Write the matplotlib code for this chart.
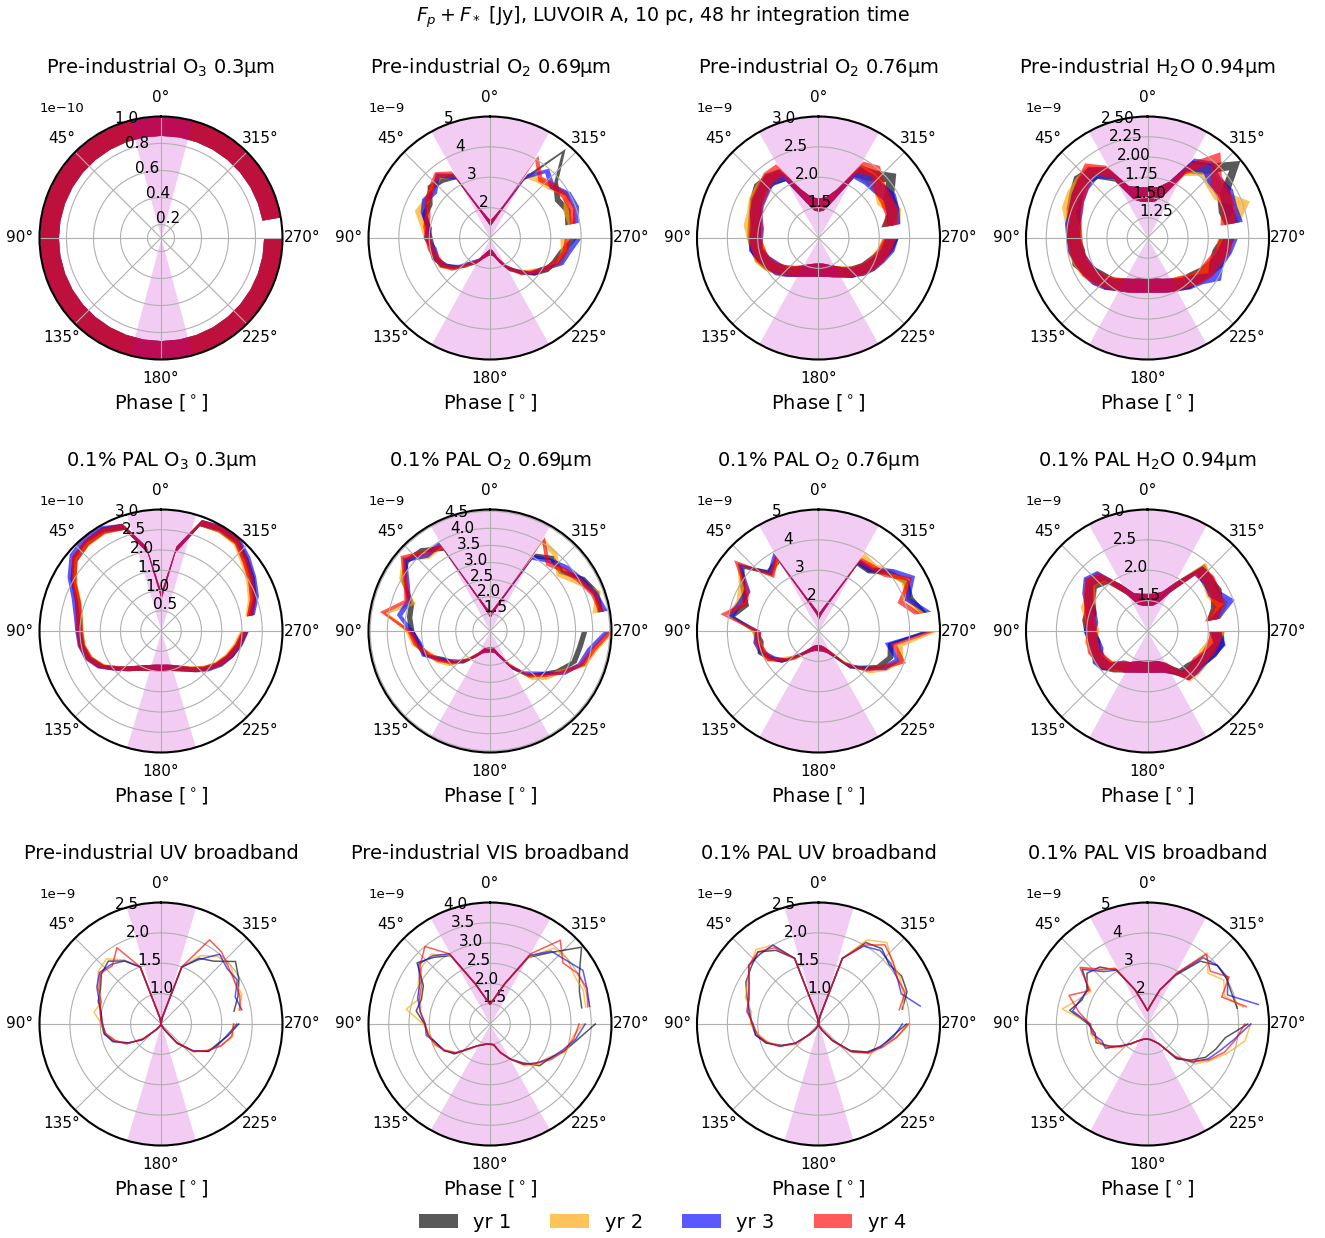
import numpy as np
import matplotlib
matplotlib.use('Agg')
import matplotlib.pyplot as plt
from matplotlib.patches import Patch

# Phase grid (deg) shared by every series, 10 deg sampling
phase = np.arange(0, 360, 10)

years = ['yr 1', 'yr 2', 'yr 3', 'yr 4']
year_colors = ['k', 'orange', 'b', 'r']

# ------------------------------------------------------------------------
# F_p + F_* per year, in units of the panel scale (1e-10 or 1e-9 Jy)
# each panel: [yr1, yr2, yr3, yr4], values at phase 0, 10, ..., 350 deg
pre_o3_030 = [
    [0.93] * 36,
    [0.93] * 36,
    [0.93] * 36,
    [0.93] * 36,
]
pre_o2_069 = [
    [1.5, 1.65, 2.0, 3.35, 3.5, 3.6, 3.3, 3.3, 3.1, 3.0, 2.95, 2.95, 2.75, 2.5, 2.15, 1.87, 1.62, 1.5,
     1.45, 1.5, 1.75, 2.15, 2.4, 2.8, 3.1, 3.25, 3.4, 3.75, 3.6, 3.7, 3.55, 3.8, 4.75, 3.3, 2.0, 1.65],
    [1.5, 1.65, 2.0, 3.4, 3.65, 3.5, 3.45, 3.55, 3.25, 3.1, 2.95, 2.85, 2.85, 2.5, 2.1, 1.87, 1.62, 1.5,
     1.45, 1.5, 1.75, 2.1, 2.5, 2.7, 3.0, 3.4, 3.45, 3.4, 3.7, 3.65, 3.9, 3.6, 3.5, 3.4, 2.0, 1.65],
    [1.5, 1.65, 2.0, 3.35, 3.7, 3.4, 3.5, 3.35, 3.05, 3.1, 2.9, 2.9, 2.8, 2.45, 2.05, 1.87, 1.62, 1.5,
     1.45, 1.5, 1.75, 2.1, 2.45, 2.8, 3.0, 3.45, 3.6, 3.9, 3.85, 4.0, 3.95, 3.65, 3.9, 3.35, 2.0, 1.65],
    [1.5, 1.65, 2.0, 3.45, 3.75, 3.55, 3.4, 3.2, 3.15, 3.05, 3.0, 2.9, 2.8, 2.55, 2.1, 1.87, 1.62, 1.5,
     1.45, 1.5, 1.75, 2.1, 2.45, 2.75, 3.05, 3.3, 3.5, 3.55, 3.75, 3.85, 3.8, 3.7, 3.55, 4.05, 2.0, 1.65],
]
pre_o2_076 = [
    [1.55, 1.58, 1.75, 2.2, 2.25, 2.28, 2.2, 2.12, 2.08, 2.07, 2.04, 2.0, 1.92, 1.8, 1.7, 1.62, 1.56, 1.53,
     1.52, 1.53, 1.57, 1.63, 1.74, 1.82, 1.92, 2.0, 2.12, 2.2, 2.15, 2.3, 2.32, 2.55, 2.35, 2.28, 1.75, 1.58],
    [1.55, 1.58, 1.75, 2.22, 2.28, 2.25, 2.22, 2.15, 2.15, 2.08, 2.0, 2.02, 1.93, 1.82, 1.7, 1.62, 1.56, 1.53,
     1.52, 1.53, 1.57, 1.63, 1.7, 1.84, 1.95, 2.02, 2.08, 2.15, 2.25, 2.33, 2.22, 2.3, 2.3, 2.3, 1.75, 1.58],
    [1.55, 1.58, 1.75, 2.2, 2.27, 2.2, 2.16, 2.1, 2.03, 2.03, 2.06, 1.97, 1.88, 1.83, 1.72, 1.62, 1.56, 1.53,
     1.52, 1.53, 1.57, 1.63, 1.73, 1.85, 1.95, 2.04, 2.15, 2.2, 2.25, 2.3, 2.35, 2.28, 2.27, 2.25, 1.75, 1.58],
    [1.55, 1.58, 1.75, 2.3, 2.3, 2.22, 2.18, 2.1, 2.05, 2.05, 2.02, 1.98, 1.9, 1.8, 1.7, 1.62, 1.56, 1.53,
     1.52, 1.53, 1.57, 1.63, 1.72, 1.83, 1.93, 2.02, 2.1, 2.17, 2.2, 2.27, 2.28, 2.3, 2.45, 2.35, 1.75, 1.58],
]
pre_h2o_094 = [
    [1.54, 1.55, 1.6, 1.9, 2.05, 2.1, 2.03, 1.98, 1.93, 1.92, 1.88, 1.9, 1.82, 1.76, 1.73, 1.66, 1.62, 1.59,
     1.58, 1.59, 1.62, 1.66, 1.72, 1.75, 1.82, 1.9, 1.9, 1.98, 2.05, 2.02, 2.08, 2.4, 2.12, 2.02, 1.65, 1.55],
    [1.54, 1.55, 1.6, 1.92, 2.08, 2.07, 2.06, 2.04, 1.95, 1.9, 1.92, 1.88, 1.85, 1.8, 1.71, 1.66, 1.62, 1.59,
     1.58, 1.59, 1.62, 1.66, 1.69, 1.78, 1.84, 1.88, 1.95, 1.95, 2.06, 2.25, 2.04, 2.05, 2.1, 1.98, 1.65, 1.55],
    [1.54, 1.55, 1.6, 1.93, 2.06, 2.04, 2.0, 1.95, 1.95, 1.92, 1.91, 1.86, 1.83, 1.8, 1.74, 1.66, 1.62, 1.59,
     1.58, 1.59, 1.62, 1.66, 1.73, 1.79, 1.95, 1.9, 1.96, 2.02, 2.1, 2.08, 2.12, 2.08, 2.15, 2.05, 1.65, 1.55],
    [1.54, 1.55, 1.6, 1.95, 2.12, 2.05, 2.0, 1.96, 1.92, 1.9, 1.9, 1.87, 1.84, 1.78, 1.72, 1.66, 1.62, 1.59,
     1.58, 1.59, 1.62, 1.66, 1.7, 1.77, 1.83, 1.86, 1.93, 1.97, 2.0, 2.05, 2.08, 2.1, 2.3, 2.0, 1.65, 1.55],
]
pal_o3_030 = [
    [0.88, 2.05, 2.75, 2.88, 2.86, 2.78, 2.52, 2.2, 2.06, 2.02, 2.0, 1.9, 1.72, 1.42, 1.2, 1.04, 0.96, 0.91,
     0.9, 0.91, 0.96, 1.06, 1.22, 1.42, 1.62, 1.8, 1.93, 2.06, 2.22, 2.42, 2.58, 2.72, 2.9, 2.9, 2.85, 2.05],
    [0.88, 2.05, 2.75, 2.85, 2.85, 2.8, 2.48, 2.18, 2.05, 2.0, 1.98, 1.9, 1.7, 1.42, 1.2, 1.04, 0.96, 0.91,
     0.9, 0.91, 0.96, 1.06, 1.2, 1.4, 1.6, 1.75, 1.88, 2.02, 2.18, 2.35, 2.5, 2.65, 2.86, 2.9, 2.85, 2.05],
    [0.88, 2.05, 2.75, 2.92, 2.95, 2.88, 2.6, 2.28, 2.12, 2.05, 2.02, 1.94, 1.74, 1.43, 1.2, 1.04, 0.96, 0.91,
     0.9, 0.91, 0.96, 1.06, 1.24, 1.45, 1.65, 1.8, 1.95, 2.08, 2.26, 2.48, 2.62, 2.78, 2.94, 2.95, 2.85, 2.05],
    [0.88, 2.05, 2.75, 2.87, 2.87, 2.8, 2.5, 2.2, 2.07, 2.02, 2.0, 1.92, 1.72, 1.42, 1.2, 1.04, 0.96, 0.91,
     0.9, 0.91, 0.96, 1.06, 1.22, 1.42, 1.62, 1.78, 1.92, 2.05, 2.22, 2.4, 2.55, 2.7, 2.9, 2.92, 2.85, 2.05],
]
pal_o2_069 = [
    [1.48, 1.65, 2.05, 3.8, 4.1, 4.2, 3.95, 3.45, 3.4, 3.3, 3.15, 3.0, 2.6, 2.45, 2.1, 1.8, 1.6, 1.55,
     1.53, 1.55, 1.75, 2.2, 2.7, 2.95, 3.3, 3.6, 3.65, 3.75, 4.25, 4.3, 4.1, 3.7, 3.8, 3.55, 2.05, 1.65],
    [1.48, 1.65, 2.05, 3.9, 3.85, 4.3, 4.0, 3.4, 4.1, 3.4, 3.25, 2.9, 2.75, 2.5, 2.05, 1.8, 1.6, 1.55,
     1.53, 1.55, 1.75, 2.1, 2.75, 3.1, 3.35, 3.9, 4.1, 4.55, 4.1, 4.35, 3.9, 3.6, 3.95, 4.05, 2.05, 1.65],
    [1.48, 1.65, 2.05, 3.95, 3.9, 4.25, 3.8, 3.55, 3.7, 3.3, 3.1, 3.05, 2.65, 2.35, 2.15, 1.8, 1.6, 1.55,
     1.53, 1.55, 1.75, 2.2, 2.6, 2.9, 3.45, 3.8, 3.95, 4.4, 4.4, 4.25, 4.05, 3.9, 3.7, 3.5, 2.05, 1.65],
    [1.48, 1.65, 2.05, 3.85, 4.0, 4.35, 3.85, 3.6, 4.2, 3.35, 3.2, 2.95, 2.7, 2.4, 2.1, 1.8, 1.6, 1.55,
     1.53, 1.55, 1.75, 2.15, 2.65, 3.0, 3.4, 3.85, 4.05, 4.5, 4.3, 4.2, 4.0, 3.8, 3.6, 4.1, 2.05, 1.65],
]
pal_o2_076 = [
    [1.5, 1.7, 2.1, 3.7, 3.55, 4.3, 3.9, 3.55, 3.9, 3.1, 2.95, 3.05, 2.8, 2.5, 2.1, 1.75, 1.6, 1.55,
     1.55, 1.57, 1.65, 1.9, 2.5, 2.85, 3.3, 3.5, 3.4, 4.5, 4.5, 4.2, 4.3, 4.0, 3.6, 3.6, 2.1, 1.7],
    [1.5, 1.7, 2.1, 3.75, 3.45, 4.4, 3.95, 3.8, 4.0, 3.1, 3.05, 2.95, 2.9, 2.35, 2.1, 1.75, 1.6, 1.55,
     1.55, 1.57, 1.65, 1.8, 2.35, 3.05, 3.5, 3.85, 3.7, 4.8, 4.4, 4.1, 4.25, 4.05, 3.8, 3.9, 2.1, 1.7],
    [1.5, 1.7, 2.1, 3.9, 3.5, 4.4, 3.7, 3.75, 3.95, 3.0, 3.1, 3.0, 2.75, 2.5, 2.0, 1.75, 1.6, 1.55,
     1.55, 1.57, 1.65, 1.85, 2.45, 2.9, 3.45, 3.75, 3.3, 4.6, 4.65, 4.1, 4.55, 4.1, 3.65, 3.65, 2.1, 1.7],
    [1.5, 1.7, 2.1, 3.8, 3.4, 4.55, 3.75, 3.6, 4.2, 3.0, 3.05, 2.95, 2.85, 2.45, 2.05, 1.75, 1.6, 1.55,
     1.55, 1.57, 1.65, 1.85, 2.4, 2.95, 3.35, 3.95, 3.5, 4.7, 4.3, 3.85, 4.45, 3.9, 3.75, 3.7, 2.1, 1.7],
]
pal_h2o_094 = [
    [1.52, 1.53, 1.57, 1.8, 2.12, 2.2, 2.1, 2.0, 2.0, 1.95, 1.9, 1.92, 1.92, 1.88, 1.78, 1.68, 1.62, 1.59,
     1.58, 1.59, 1.62, 1.72, 1.9, 1.92, 2.0, 2.1, 2.18, 2.15, 2.08, 2.2, 2.3, 2.28, 2.35, 1.85, 1.6, 1.53],
    [1.52, 1.53, 1.57, 1.8, 2.18, 2.25, 2.08, 2.08, 1.95, 1.9, 1.96, 1.9, 1.94, 1.85, 1.74, 1.68, 1.62, 1.59,
     1.58, 1.59, 1.62, 1.68, 1.98, 2.0, 2.02, 2.0, 2.08, 2.18, 2.12, 2.3, 2.22, 2.28, 2.38, 1.85, 1.6, 1.53],
    [1.52, 1.53, 1.57, 1.8, 2.2, 2.28, 2.15, 2.0, 1.93, 1.96, 1.9, 1.88, 1.95, 1.9, 1.72, 1.68, 1.62, 1.59,
     1.58, 1.59, 1.62, 1.7, 1.95, 1.98, 2.0, 2.08, 2.2, 2.1, 2.1, 2.42, 2.25, 2.3, 2.3, 1.85, 1.6, 1.53],
    [1.52, 1.53, 1.57, 1.8, 2.15, 2.25, 2.12, 2.02, 1.97, 1.93, 1.93, 1.95, 1.9, 1.87, 1.75, 1.68, 1.62, 1.59,
     1.58, 1.59, 1.62, 1.7, 1.95, 1.97, 1.96, 2.05, 2.1, 2.12, 2.05, 2.25, 2.27, 2.32, 2.3, 1.85, 1.6, 1.53],
]
pre_uv = [
    [0.5, 0.6, 1.5, 1.7, 1.85, 1.78, 1.65, 1.6, 1.5, 1.48, 1.45, 1.33, 1.12, 0.9, 0.62, 0.55, 0.52, 0.5,
     0.5, 0.5, 0.52, 0.6, 0.92, 1.2, 1.4, 1.48, 1.62, 1.78, 1.72, 1.85, 1.98, 2.1, 1.85, 1.75, 1.5, 0.6],
    [0.5, 0.6, 1.5, 1.72, 1.9, 1.85, 1.7, 1.55, 1.62, 1.48, 1.43, 1.3, 1.16, 0.86, 0.62, 0.55, 0.52, 0.5,
     0.5, 0.5, 0.52, 0.6, 0.88, 1.22, 1.36, 1.55, 1.7, 1.68, 1.8, 1.92, 1.9, 2.0, 1.95, 1.8, 1.5, 0.6],
    [0.5, 0.6, 1.5, 1.7, 1.78, 1.82, 1.72, 1.58, 1.5, 1.46, 1.44, 1.35, 1.13, 0.9, 0.62, 0.55, 0.52, 0.5,
     0.5, 0.5, 0.52, 0.6, 0.9, 1.18, 1.4, 1.5, 1.6, 1.75, 1.85, 1.8, 1.95, 1.92, 2.0, 1.72, 1.5, 0.6],
    [0.5, 0.6, 1.5, 1.95, 1.75, 1.8, 1.68, 1.55, 1.52, 1.47, 1.42, 1.3, 1.15, 0.88, 0.62, 0.55, 0.52, 0.5,
     0.5, 0.5, 0.52, 0.6, 0.9, 1.2, 1.38, 1.55, 1.68, 1.7, 1.82, 1.88, 1.9, 1.95, 2.05, 2.1, 1.5, 0.6],
]
pre_vis = [
    [1.49, 1.65, 2.05, 2.95, 3.15, 3.35, 2.9, 2.8, 2.85, 2.62, 2.55, 2.4, 2.3, 2.15, 1.8, 1.62, 1.55, 1.5,
     1.5, 1.52, 1.75, 2.0, 2.25, 2.6, 2.7, 2.95, 3.2, 3.6, 3.3, 3.35, 3.55, 3.95, 3.3, 2.9, 2.05, 1.65],
    [1.49, 1.65, 2.05, 2.95, 3.25, 3.2, 3.05, 2.85, 3.1, 2.65, 2.5, 2.5, 2.28, 2.1, 1.82, 1.62, 1.55, 1.5,
     1.5, 1.52, 1.75, 2.0, 2.35, 2.55, 2.65, 3.0, 3.05, 3.3, 3.4, 3.45, 3.4, 3.5, 3.45, 2.9, 2.05, 1.65],
    [1.49, 1.65, 2.05, 3.0, 3.2, 3.3, 3.0, 2.9, 2.75, 2.6, 2.6, 2.4, 2.32, 2.12, 1.78, 1.62, 1.55, 1.5,
     1.5, 1.52, 1.75, 2.0, 2.3, 2.5, 2.7, 2.9, 3.15, 3.35, 3.5, 3.55, 3.65, 3.45, 3.35, 2.95, 2.05, 1.65],
    [1.49, 1.65, 2.05, 3.0, 3.5, 3.25, 2.95, 2.85, 2.75, 2.6, 2.55, 2.45, 2.3, 2.1, 1.8, 1.62, 1.55, 1.5,
     1.5, 1.52, 1.75, 2.0, 2.3, 2.5, 2.75, 2.95, 3.1, 3.2, 3.45, 3.55, 3.5, 3.35, 3.7, 3.0, 2.05, 1.65],
]
pal_uv = [
    [0.5, 0.62, 1.65, 1.9, 2.05, 1.95, 1.88, 1.75, 1.65, 1.6, 1.55, 1.42, 1.2, 1.0, 0.72, 0.6, 0.54, 0.5,
     0.5, 0.5, 0.54, 0.62, 0.85, 1.18, 1.42, 1.6, 1.72, 1.95, 1.9, 2.05, 2.08, 2.02, 2.12, 2.05, 1.65, 0.62],
    [0.5, 0.62, 1.65, 2.0, 2.1, 1.98, 1.85, 1.78, 1.62, 1.62, 1.5, 1.38, 1.22, 1.02, 0.72, 0.6, 0.54, 0.5,
     0.5, 0.5, 0.54, 0.62, 0.88, 1.2, 1.48, 1.58, 1.8, 2.0, 1.92, 1.98, 2.05, 2.08, 2.25, 2.1, 1.65, 0.62],
    [0.5, 0.62, 1.65, 2.0, 2.0, 2.0, 1.82, 1.72, 1.68, 1.58, 1.55, 1.4, 1.24, 0.98, 0.72, 0.6, 0.54, 0.5,
     0.5, 0.5, 0.54, 0.62, 0.85, 1.2, 1.44, 1.58, 1.75, 1.88, 2.2, 1.95, 2.0, 2.05, 2.08, 1.98, 1.65, 0.62],
    [0.5, 0.62, 1.65, 1.95, 2.05, 2.0, 1.82, 1.72, 1.7, 1.58, 1.52, 1.4, 1.22, 1.0, 0.72, 0.6, 0.54, 0.5,
     0.5, 0.5, 0.54, 0.62, 0.85, 1.22, 1.45, 1.62, 1.8, 1.98, 1.85, 2.02, 2.0, 2.1, 2.2, 2.0, 1.65, 0.62],
]
pal_vis = [
    [1.44, 1.65, 2.2, 3.05, 3.45, 3.6, 3.3, 3.3, 3.6, 2.95, 2.75, 2.8, 2.45, 2.15, 1.85, 1.65, 1.55, 1.5,
     1.5, 1.52, 1.6, 1.75, 2.5, 2.85, 3.2, 3.4, 3.6, 4.3, 4.0, 3.95, 4.0, 4.0, 3.7, 2.85, 2.2, 1.65],
    [1.44, 1.65, 2.2, 3.15, 3.3, 3.85, 3.15, 3.4, 3.85, 2.85, 2.9, 2.75, 2.55, 2.2, 1.85, 1.65, 1.55, 1.5,
     1.5, 1.52, 1.6, 1.75, 2.35, 3.05, 3.4, 3.8, 4.25, 4.4, 4.2, 3.7, 3.9, 3.6, 4.05, 2.9, 2.2, 1.65],
    [1.44, 1.65, 2.2, 3.05, 3.25, 3.8, 3.25, 3.35, 3.5, 2.9, 2.85, 2.6, 2.6, 2.1, 1.85, 1.65, 1.55, 1.5,
     1.5, 1.52, 1.6, 1.75, 2.45, 2.95, 3.3, 3.55, 3.9, 4.4, 4.7, 3.8, 4.05, 4.0, 3.85, 2.9, 2.2, 1.65],
    [1.44, 1.65, 2.2, 3.1, 3.35, 3.9, 3.2, 3.75, 3.3, 2.9, 2.8, 2.7, 2.5, 2.15, 1.85, 1.65, 1.55, 1.5,
     1.5, 1.52, 1.6, 1.75, 2.4, 2.9, 3.35, 3.7, 3.95, 4.2, 4.3, 3.6, 4.1, 3.7, 4.0, 2.95, 2.2, 1.65],
]

# ------------------------------------------------------------------------
titles = ['Pre-industrial O$_3$ 0.3µm', 'Pre-industrial O$_2$ 0.69µm',
          'Pre-industrial O$_2$ 0.76µm', 'Pre-industrial H$_2$O 0.94µm',
          '0.1% PAL O$_3$ 0.3µm', '0.1% PAL O$_2$ 0.69µm',
          '0.1% PAL O$_2$ 0.76µm', '0.1% PAL H$_2$O 0.94µm',
          'Pre-industrial UV broadband', 'Pre-industrial VIS broadband',
          '0.1% PAL UV broadband', '0.1% PAL VIS broadband']
panels = [pre_o3_030, pre_o2_069, pre_o2_076, pre_h2o_094,
          pal_o3_030, pal_o2_069, pal_o2_076, pal_h2o_094,
          pre_uv, pre_vis, pal_uv, pal_vis]
scales = [1e-10, 1e-9, 1e-9, 1e-9, 1e-10, 1e-9, 1e-9, 1e-9, 1e-9, 1e-9, 1e-9, 1e-9]
r_limits = [(0.1, 1.0), (1.0, 5.0), (1.0, 3.0), (1.0, 2.5),
            (0.0, 3.0), (1.0, 4.55), (1.0, 5.0), (1.0, 3.0),
            (0.5, 2.5), (1.0, 4.0), (0.5, 2.5), (1.0, 5.0)]
r_ticks = [[0.2, 0.4, 0.6, 0.8, 1.0], [2, 3, 4, 5], [1.5, 2.0, 2.5, 3.0],
           [1.25, 1.5, 1.75, 2.0, 2.25, 2.5],
           [0.5, 1.0, 1.5, 2.0, 2.5, 3.0], [1.5, 2.0, 2.5, 3.0, 3.5, 4.0, 4.5],
           [2, 3, 4, 5], [1.5, 2.0, 2.5, 3.0],
           [1.0, 1.5, 2.0, 2.5], [1.5, 2.0, 2.5, 3.0, 3.5, 4.0],
           [1.0, 1.5, 2.0, 2.5], [2, 3, 4, 5]]
# 1-sigma half width of the noise band (None -> plain lines)
noise = [0.07, 0.1, 0.11, 0.09, 0.08, 0.08, 0.1, 0.1, None, None, None, None]
# half opening (deg) of the inner-working-angle exclusion around 0 and 180 deg
iwa_half = [15, 29, 29.5, 29, 16.5, 29.5, 29.5, 29, 16.5, 29.5, 16.5, 28.5]


def draw_panel(ax, title, series, scale, rlim, rticks, sigma, iwa):
    ax.set_theta_zero_location('N')
    # start the orbit at 280 deg so the sequence ends just before it
    ph = np.arange(280, 640, 10)
    th = np.radians(ph)
    idx = (ph % 360) // 10
    for vals, col in zip(series, year_colors):
        r = np.asarray(vals)[idx] * scale
        if sigma is None:
            ax.plot(th, r, color=col, alpha=0.65, lw=1.1)
        else:
            ax.fill_between(th, r - sigma * scale, r + sigma * scale,
                            color=col, alpha=0.65, lw=0)
    for centre in (0., 180.):
        tw = np.radians(np.linspace(centre - iwa, centre + iwa, 80))
        ax.fill_between(tw, rlim[0] * scale, rlim[1] * scale, color='m',
                        alpha=0.2, lw=0, zorder=1.2)
    ax.set_rlim(rlim[0] * scale, rlim[1] * scale)
    ax.set_rticks(np.array(rticks) * scale)
    ax.tick_params(labelsize=11)
    ax.yaxis.get_offset_text().set_fontsize(9.5)
    ax.spines['polar'].set_linewidth(1.5)
    ax.set_title(title, fontsize=14, y=1.18, pad=0)
    ax.set_xlabel(r'Phase [$^\circ$]', fontsize=14)


W, H = 1325., 1238.
fig = plt.figure(figsize=(W / 100, H / 100), dpi=100)

col_x = [161, 490, 818.5, 1147.5]
row_y = [238, 631, 1024]
size = 243.

for k in range(12):
    cx, cy = col_x[k % 4], row_y[k // 4]
    ax = fig.add_axes([(cx - size / 2) / W, 1 - (cy + size / 2) / H, size / W, size / H],
                      projection='polar')
    draw_panel(ax, titles[k], panels[k], scales[k], r_limits[k], r_ticks[k],
               noise[k], iwa_half[k])

fig.suptitle(r'$F_p + F_*$ [Jy], LUVOIR A, 10 pc, 48 hr integration time',
             fontsize=13.7, y=0.996, va='top')

handles = [Patch(facecolor=c, alpha=0.65, lw=0, label=l) for c, l in zip(year_colors, years)]
fig.legend(handles=handles, loc='center', bbox_to_anchor=(0.5, 16 / H), ncol=4,
           frameon=False, fontsize=14)

fig.savefig('out.png', dpi=100)
